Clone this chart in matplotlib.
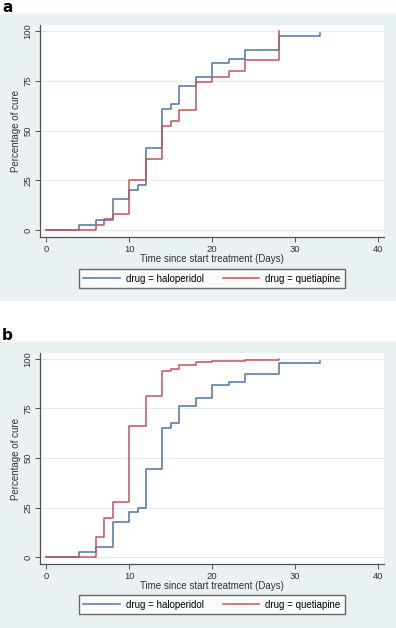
import matplotlib
matplotlib.use("Agg")
import matplotlib.pyplot as plt
from matplotlib.patches import Rectangle

# step times (days) and cumulative percentage of cure after each step
days_halo_a = [0, 4, 6, 8, 10, 11, 12, 14, 15, 16, 18, 20, 22, 24, 28, 33]
cure_halo_a = [0, 2.5, 5, 15.5, 20, 22.5, 41, 61, 63.5, 72.5, 77, 84, 86, 90.5, 97.5, 99]
days_quet_a = [0, 6, 7, 8, 10, 12, 14, 15, 16, 18, 20, 22, 24, 28]
cure_quet_a = [0, 2.5, 5.5, 8, 25, 35.5, 52.5, 55, 60.5, 74.5, 77, 80, 85.5, 100]

days_halo_b = [0, 4, 6, 8, 10, 11, 12, 14, 15, 16, 18, 20, 22, 24, 28, 33]
cure_halo_b = [0, 2.5, 5, 17.5, 22.5, 25, 44.5, 65, 67.5, 76.5, 80.5, 87, 88.5, 92.5, 98, 99]
days_quet_b = [0, 6, 7, 8, 10, 12, 14, 15, 16, 18, 20, 24, 28]
cure_quet_b = [0, 10, 19.5, 28, 66, 81.5, 94, 95, 97, 98.7, 99.2, 99.6, 99.8]

labels = ["drug = haloperidol", "drug = quetiapine"]
BLUE = "#5173a0"
RED = "#c0545e"
BG = "#eaf1f2"

plt.rcParams["font.family"] = ["Liberation Sans", "DejaVu Sans"]

W, H = 396, 628
fig = plt.figure(figsize=(W / 100, H / 100), dpi=100)
fig.patch.set_facecolor("white")


def px(x0, y0, x1, y1):
    # pixel box (top-left origin) -> figure fraction rect
    return [x0 / W, 1 - y1 / H, (x1 - x0) / W, (y1 - y0) / H]


def panel(letter, top, bg_bottom, plot_top, plot_bot, leg_y, data):
    fig.patches.append(Rectangle((0, 1 - bg_bottom / H), 1, (bg_bottom - top) / H,
                                 transform=fig.transFigure, color=BG, zorder=-10))
    fig.text(2 / W, 1 - (top - 14) / H, letter, fontsize=11, fontweight="bold",
             va="top", ha="left", family="DejaVu Sans")
    ax = fig.add_axes(px(40, plot_top, 384, plot_bot))
    ax.set_facecolor("white")
    (dh, ch), (dq, cq) = data
    l1, = ax.step(dh, ch, where="post", color=BLUE, lw=1.1)
    l2, = ax.step(dq, cq, where="post", color=RED, lw=1.1)
    ax.set_xlim(-0.75, 40.7)
    ax.set_ylim(-3.5, 103)
    ax.set_xticks([0, 10, 20, 30, 40])
    ax.set_yticks([0, 25, 50, 75, 100])
    ax.grid(axis="y", color="#e4eced", lw=0.7)
    ax.set_axisbelow(True)
    for s in ["top", "right"]:
        ax.spines[s].set_visible(False)
    for s in ["left", "bottom"]:
        ax.spines[s].set_color("#505050")
        ax.spines[s].set_linewidth(0.9)
    ax.tick_params(axis="both", labelsize=6.8, color="#505050", length=3.5,
                   width=0.7, labelcolor="#333333", pad=2)
    for t in ax.get_yticklabels():
        t.set_rotation(90)
        t.set_va("center")
    ax.set_xlabel("Time since start treatment (Days)", fontsize=7,
                  color="#333333", labelpad=0)
    ax.set_ylabel("Percentage of cure", fontsize=7, color="#333333", labelpad=2)
    lax = fig.add_axes(px(77, leg_y, 347, leg_y + 19))
    lax.axis("off")
    lax.legend([l1, l2], labels, loc="center", ncol=2, fontsize=7,
               frameon=True, fancybox=False, edgecolor="#444444",
               handlelength=3.8, handletextpad=0.6, columnspacing=1.9,
               borderpad=0.45, borderaxespad=0)
    return ax


panel("a", 14, 300, 25, 237, 269,
      [(days_halo_a, cure_halo_a), (days_quet_a, cure_quet_a)])
panel("b", 342, 628, 353, 564, 595,
      [(days_halo_b, cure_halo_b), (days_quet_b, cure_quet_b)])

fig.savefig("out.png", dpi=100)
